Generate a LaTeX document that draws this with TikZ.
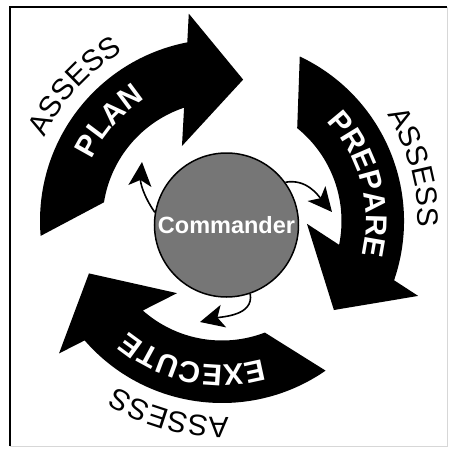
\documentclass[tikz,border=0pt]{standalone}
\usepackage{fontspec}
\setmainfont{Liberation Sans}
\usetikzlibrary{arrows.meta,decorations.text,positioning}
\definecolor{cmdgray}{RGB}{118,118,118}
\definecolor{framegray}{RGB}{215,215,215}
\newcommand{\armfont}{\fontsize{30}{32}\selectfont\bfseries}
\newcommand{\assessfont}{\fontsize{29.5}{32}\selectfont}

\begin{document}
\begin{tikzpicture}[
		x=1pt, y=1pt,
		>={Stealth[length=24pt,width=23pt,inset=6pt]},
		bigarrow/.style={
			fill=black
		},
		feedback/.style={
			->,
			line width=1.6pt
		},
		armlabel/.style={
			decorate,
			decoration={text along path, text align=center, text color=white, text={|\armfont|#1}}
		},
		assesslabel/.style={
			decorate,
			decoration={text along path, text align=center, text={|\assessfont|ASSESS}}
		},
		commander/.style={
			circle,
			draw,
			line width=1.5pt,
			fill=cmdgray,
			minimum size=144pt,
			inner sep=0pt,
			text=white,
			font=\fontsize{23.5}{26}\selectfont\bfseries
		}
		]
		\useasboundingbox (-222,-227) rectangle (231,221);
		% frame
		\draw[framegray, line width=0.8pt] (225,214) -- (225,-225) -- (-212,-225);
		\draw[line width=1.5pt] (-212,-225) -- (-212,214) -- (225,214);
		
		% the three big arrows
		\fill[bigarrow] (184.7:182) arc[start angle=184.7, end angle=101, radius=182] -- (99.1:210) -- (81.5:143) -- (118.1:85) -- (108.5:119.5) arc[start angle=108.5, end angle=171, radius=119.5] -- cycle;
		\fill[bigarrow, rotate=-120] (184.7:182) arc[start angle=184.7, end angle=101, radius=182] -- (99.1:210) -- (81.5:143) -- (118.1:85) -- (108.5:119.5) arc[start angle=108.5, end angle=171, radius=119.5] -- cycle;
		\fill[bigarrow, rotate=120] (184.7:182) arc[start angle=184.7, end angle=101, radius=182] -- (99.1:210) -- (81.5:143) -- (118.1:85) -- (108.5:119.5) arc[start angle=108.5, end angle=171, radius=119.5] -- cycle;
		
		\path[armlabel=PLAN] (168.5:144) arc[start angle=168.5, end angle=108.5, radius=144];
		\path[armlabel=PREPARE] (55:144) arc[start angle=55, end angle=-25, radius=144];
		\path[armlabel=EXECUTE] (-62:144) arc[start angle=-62, end angle=-142, radius=144];
		
		\path[assesslabel] (167.6:196) arc[start angle=167.6, end angle=107.6, radius=196];
		\path[assesslabel] (45.5:196) arc[start angle=45.5, end angle=-14.5, radius=196];
		\path[assesslabel] (-75.3:196) arc[start angle=-75.3, end angle=-135.3, radius=196];
		
		\node[commander] (CMD) at (4.5,-4) {Commander};
		
		\coordinate (TOPLAN) at (-80,59);
		\coordinate (TOPREP) at (110,9);
		\coordinate (TOEXEC) at (-22,-101);
		\draw[feedback] (CMD.170) to[out=125,in=-95] (TOPLAN);
		\draw[feedback] (CMD.36) to[out=10,in=130] (TOPREP);
		\draw[feedback] (CMD.-71) to[out=-80,in=14] (TOEXEC);
		\end{tikzpicture}
\end{document}
